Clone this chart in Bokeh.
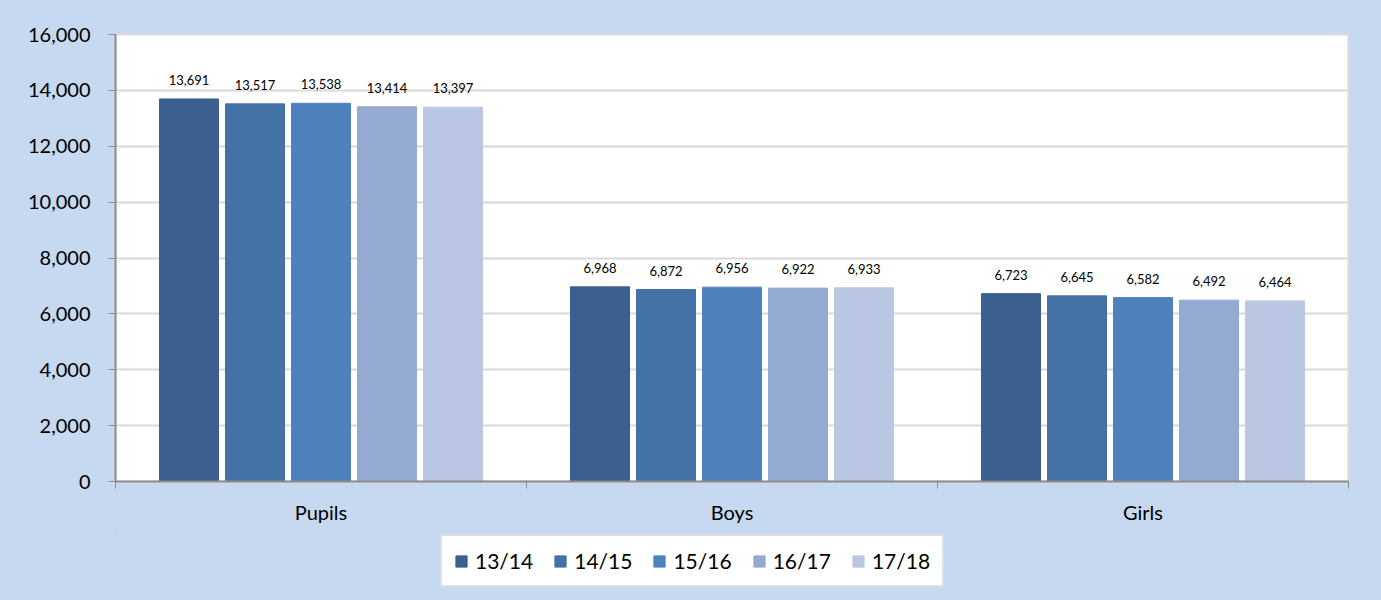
from bokeh.plotting import figure
from bokeh.layouts import column
from bokeh.models import (ColumnDataSource, FixedTicker, NumeralTickFormatter, Legend,
                          LegendItem, Range1d, LabelSet)
from bokeh.core.properties import value
from bokeh.embed import file_html
from bokeh.resources import INLINE

categories = ["Pupils", "Boys", "Girls"]
years = ["13/14", "14/15", "15/16", "16/17", "17/18"]
values = {
    "13/14": [13691, 6968, 6723],
    "14/15": [13517, 6872, 6645],
    "15/16": [13538, 6956, 6582],
    "16/17": [13414, 6922, 6492],
    "17/18": [13397, 6933, 6464],
}
colors = ["#3B5F8F", "#4472A7", "#4F81BD", "#95AAD2", "#BAC7E2"]
y_ticks = [0, 2000, 4000, 6000, 8000, 10000, 12000, 14000, 16000]

FONT = "Lato"
BG = "#C6D9F1"
p = figure(width=1381, height=530, output_backend="svg", toolbar_location=None,
           x_range=Range1d(0, 3), y_range=Range1d(0, 16000))
p.min_border_left = 115
p.min_border_right = 33
p.min_border_top = 34
p.min_border_bottom = 49
p.border_fill_color = BG
p.background_fill_color = "white"
p.outline_line_color = "#D9D9D9"
p.outline_line_width = 2

offset = 0.1606
bw = 0.1436
for j, yr in enumerate(years):
    xs = [i + 0.5 + (j - 2) * offset for i in range(len(categories))]
    src = ColumnDataSource(dict(x=xs, top=values[yr],
                                lab=[f"{v:,}" for v in values[yr]]))
    p.vbar(x="x", top="top", width=bw, source=src, fill_color=colors[j],
           line_color=colors[j], line_width=1)
    lbl = LabelSet(x="x", y="top", text="lab", source=src, text_align="center",
                   text_baseline="bottom", y_offset=14, text_font_size="13px",
                   text_font=value(FONT), text_color="black")
    p.add_layout(lbl)

# axes
p.xaxis.ticker = FixedTicker(ticks=[0.5, 1.5, 2.5], minor_ticks=[0, 1, 2, 3])
p.xaxis.major_label_overrides = {0.5: "Pupils", 1.5: "Boys", 2.5: "Girls"}
p.xaxis.major_tick_line_color = None
p.xaxis.minor_tick_out = 7
p.xaxis.minor_tick_in = 0
p.xaxis.minor_tick_line_color = "#8C8C8C"
p.xaxis.axis_line_color = "#8C8C8C"
p.xaxis.axis_line_width = 2
p.xaxis.major_label_text_font = FONT
p.xaxis.major_label_text_font_size = "20px"
p.xaxis.major_label_text_color = "black"
p.xaxis.major_label_standoff = 11

p.yaxis.ticker = FixedTicker(ticks=y_ticks, minor_ticks=[])
p.yaxis.formatter = NumeralTickFormatter(format="0,0")
p.yaxis.major_tick_out = 7
p.yaxis.major_tick_in = 0
p.yaxis.major_tick_line_color = "#8C8C8C"
p.yaxis.axis_line_color = "#8C8C8C"
p.yaxis.axis_line_width = 2
p.yaxis.major_label_text_font = FONT
p.yaxis.major_label_text_font_size = "20px"
p.yaxis.major_label_text_color = "black"
p.yaxis.major_label_standoff = 18

p.xgrid.grid_line_color = None
p.ygrid.grid_line_color = "#D9D9D9"
p.ygrid.grid_line_width = 2

# legend strip (legend proxies: one bar each, placed outside the visible range)
lg = figure(width=1381, height=70, output_backend="svg", toolbar_location=None,
            x_range=Range1d(0, 1), y_range=Range1d(0, 1))
lg.min_border_left = 0
lg.min_border_right = 0
lg.min_border_top = 0
lg.min_border_bottom = 0
lg.axis.visible = False
lg.grid.visible = False
lg.background_fill_alpha = 0
lg.border_fill_color = BG
lg.outline_line_color = None
items = []
for j, yr in enumerate(years):
    r = lg.vbar(x=[-5], top=[values[yr][0]], bottom=[values[yr][0] - 1], width=0.1,
                fill_color=colors[j], line_color=colors[j])
    items.append(LegendItem(label=yr, renderers=[r]))
legend = Legend(items=items, orientation="horizontal", location=(325, 13),
                label_text_font=FONT, label_text_font_size="21px",
                label_text_color="black", glyph_width=14, glyph_height=14,
                label_standoff=7, spacing=20, padding=12,
                border_line_color="#BFBFBF", border_line_width=2,
                background_fill_color="white", background_fill_alpha=1,
                margin=0)
lg.add_layout(legend, "center")

layout = column(p, lg, spacing=0, background=BG)
open("out.html", "w").write(file_html(layout, INLINE))
